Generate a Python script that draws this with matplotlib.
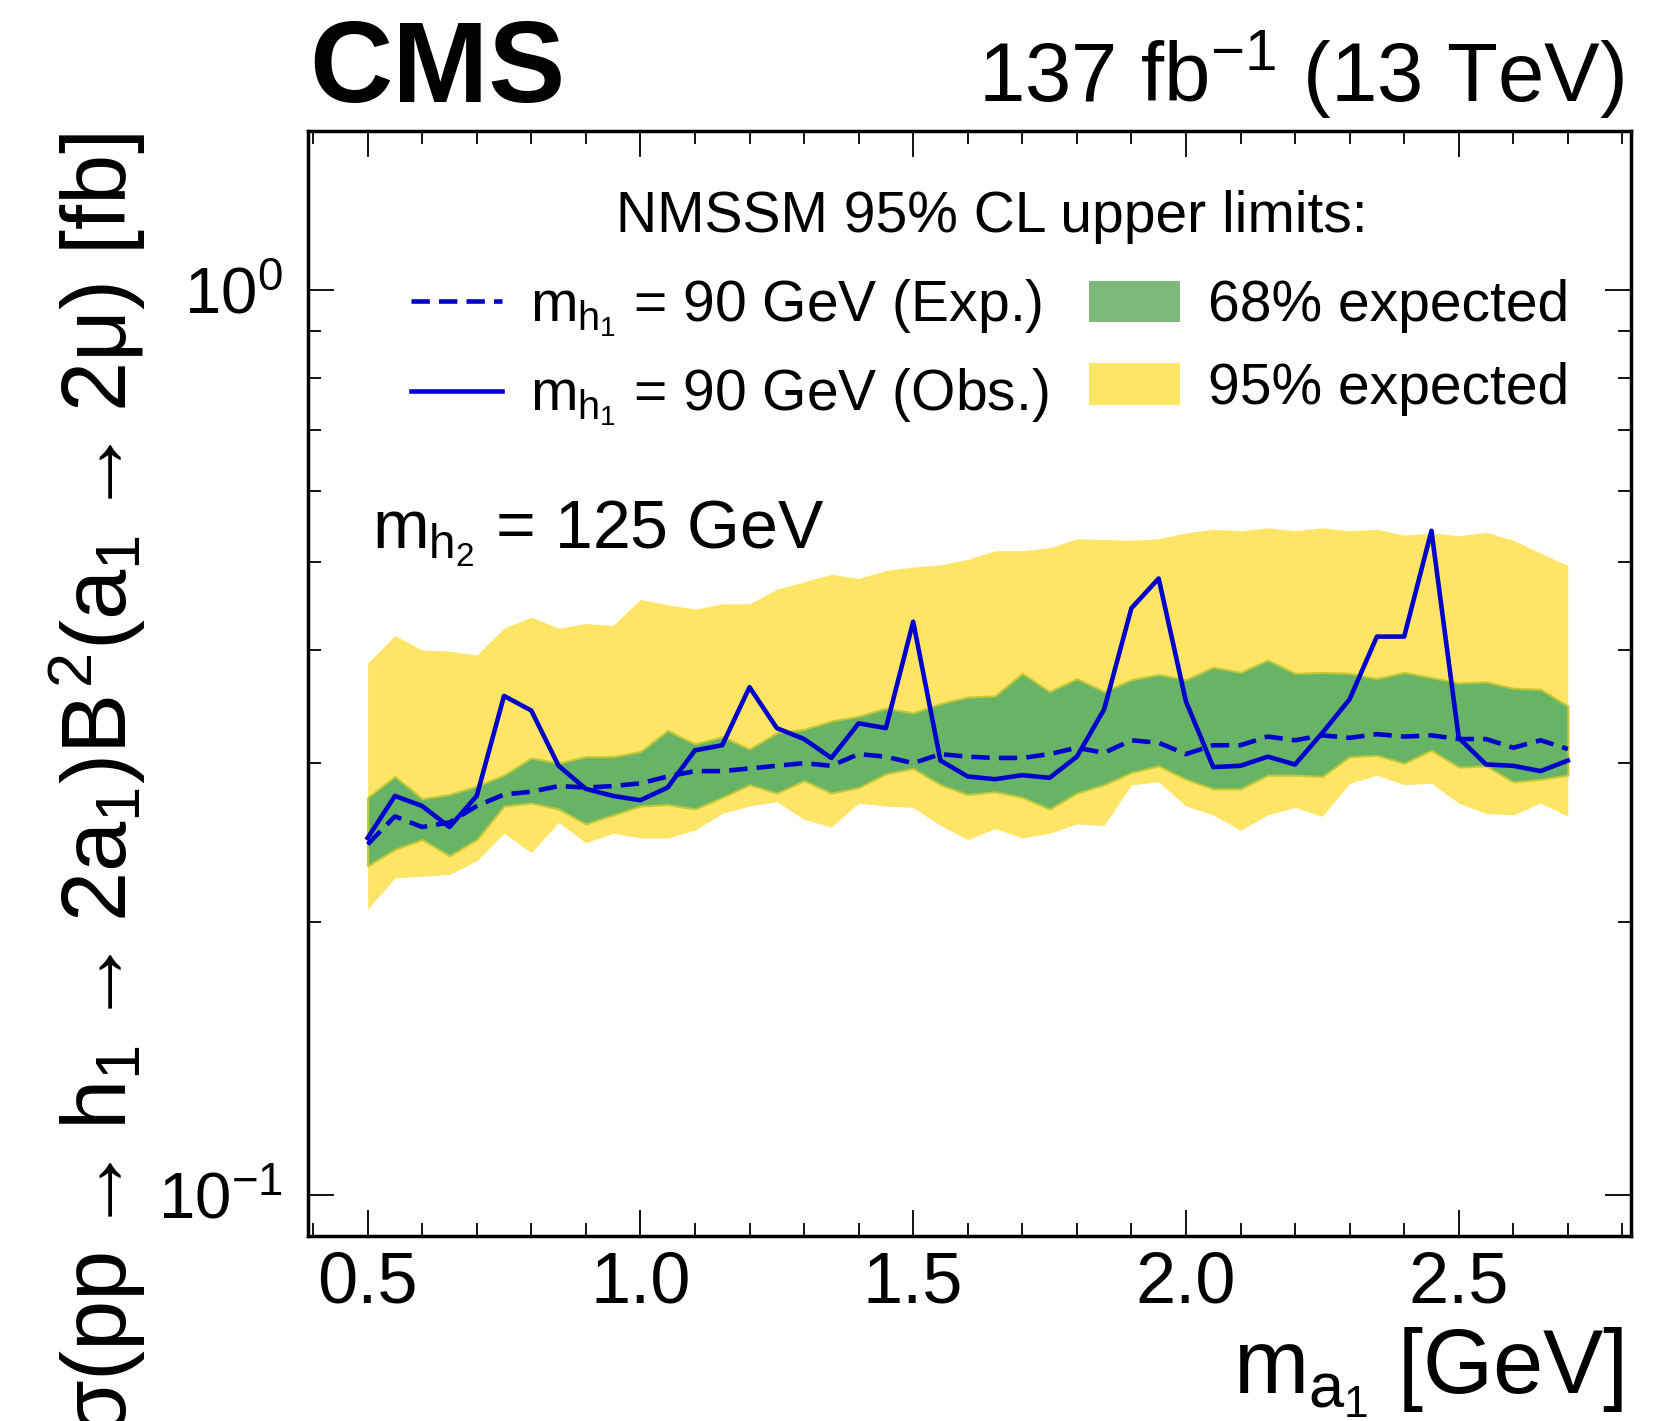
import numpy as np
import matplotlib
matplotlib.use("Agg")
from matplotlib import pyplot as plt
from matplotlib.lines import Line2D
from matplotlib.patches import Patch
from matplotlib.ticker import MultipleLocator, LogLocator

plt.rcParams["font.family"] = ["Liberation Sans", "DejaVu Sans"]
plt.rcParams["mathtext.fontset"] = "custom"
plt.rcParams["mathtext.rm"] = "Liberation Sans"
plt.rcParams["mathtext.it"] = "Liberation Sans"
plt.rcParams["mathtext.bf"] = "Liberation Sans:bold"

# m(a1) scan points [GeV]
ma1 = [0.50, 0.55, 0.60, 0.65, 0.70, 0.75, 0.80, 0.85, 0.90, 0.95, 1.00,
       1.05, 1.10, 1.15, 1.20, 1.25, 1.30, 1.35, 1.40, 1.45, 1.50, 1.55,
       1.60, 1.65, 1.70, 1.75, 1.80, 1.85, 1.90, 1.95, 2.00, 2.05, 2.10,
       2.15, 2.20, 2.25, 2.30, 2.35, 2.40, 2.45, 2.50, 2.55, 2.60, 2.65, 2.70]

# limits in fb
observed = [0.248, 0.276, 0.269, 0.255, 0.276, 0.356, 0.343, 0.298, 0.281, 0.276, 0.273,
            0.282, 0.310, 0.314, 0.364, 0.328, 0.319, 0.304, 0.332, 0.328, 0.430, 0.302,
            0.290, 0.288, 0.291, 0.289, 0.305, 0.344, 0.445, 0.480, 0.351, 0.297, 0.298,
            0.305, 0.299, 0.324, 0.353, 0.414, 0.414, 0.542, 0.320, 0.299, 0.298, 0.294, 0.302]
expected = [0.244, 0.262, 0.255, 0.258, 0.269, 0.277, 0.279, 0.283, 0.282, 0.283, 0.285,
            0.290, 0.294, 0.294, 0.296, 0.298, 0.300, 0.298, 0.307, 0.305, 0.300, 0.307,
            0.305, 0.304, 0.304, 0.307, 0.312, 0.308, 0.318, 0.316, 0.307, 0.314, 0.314,
            0.321, 0.318, 0.322, 0.320, 0.323, 0.321, 0.322, 0.319, 0.319, 0.312, 0.318, 0.311]
exp_68_lo = [0.231, 0.241, 0.247, 0.237, 0.247, 0.269, 0.271, 0.267, 0.257, 0.263, 0.269,
             0.270, 0.267, 0.275, 0.284, 0.278, 0.287, 0.278, 0.282, 0.292, 0.296, 0.284,
             0.277, 0.279, 0.275, 0.267, 0.278, 0.284, 0.293, 0.298, 0.288, 0.281, 0.281,
             0.291, 0.291, 0.290, 0.305, 0.306, 0.300, 0.310, 0.297, 0.298, 0.286, 0.288, 0.291]
exp_68_hi = [0.275, 0.290, 0.274, 0.277, 0.283, 0.291, 0.304, 0.300, 0.305, 0.305, 0.309,
             0.326, 0.315, 0.321, 0.311, 0.324, 0.327, 0.334, 0.338, 0.345, 0.341, 0.349,
             0.355, 0.356, 0.377, 0.360, 0.372, 0.360, 0.371, 0.376, 0.371, 0.383, 0.378,
             0.390, 0.377, 0.378, 0.377, 0.372, 0.378, 0.373, 0.368, 0.369, 0.363, 0.362, 0.347]
exp_95_lo = [0.207, 0.224, 0.225, 0.226, 0.234, 0.251, 0.239, 0.258, 0.245, 0.251, 0.248,
             0.248, 0.253, 0.264, 0.269, 0.272, 0.260, 0.255, 0.271, 0.269, 0.268, 0.256,
             0.247, 0.254, 0.248, 0.251, 0.257, 0.256, 0.284, 0.286, 0.269, 0.263, 0.253,
             0.263, 0.268, 0.262, 0.285, 0.291, 0.284, 0.285, 0.271, 0.264, 0.263, 0.271, 0.262]
exp_95_hi = [0.387, 0.415, 0.400, 0.399, 0.395, 0.423, 0.435, 0.423, 0.428, 0.426, 0.455,
             0.449, 0.444, 0.450, 0.450, 0.467, 0.476, 0.485, 0.480, 0.490, 0.494, 0.497,
             0.504, 0.515, 0.515, 0.519, 0.531, 0.530, 0.529, 0.531, 0.539, 0.544, 0.542,
             0.546, 0.542, 0.546, 0.542, 0.544, 0.536, 0.539, 0.535, 0.540, 0.529, 0.512, 0.496]

BLUE = "#0000CC"
GREEN = "#67B467"
YELLOW = "#FFE566"
DASH = (0, (4.0, 2.0))

fig = plt.figure(figsize=(16.81, 14.21), dpi=100)
ax = fig.add_axes([0.183, 0.130, 0.787, 0.778])

ax.fill_between(ma1, exp_95_lo, exp_95_hi, color=YELLOW, lw=0)
ax.fill_between(ma1, exp_68_lo, exp_68_hi, facecolor=GREEN, edgecolor="#C2C838", lw=1.5)
ax.plot(ma1, expected, color=BLUE, lw=3.3, ls=DASH)
ax.plot(ma1, observed, color=BLUE, lw=3.3)

ax.set_yscale("log")
ax.set_xlim(0.39, 2.815)
ax.set_ylim(0.09, 1.5)
ax.xaxis.set_major_locator(MultipleLocator(0.5))
ax.xaxis.set_minor_locator(MultipleLocator(0.1))
ax.yaxis.set_major_locator(LogLocator(base=10))
ax.yaxis.set_minor_locator(LogLocator(base=10, subs=np.arange(2, 10)))
ax.xaxis.set_major_formatter(matplotlib.ticker.FormatStrFormatter("%.1f"))
ax.yaxis.set_minor_formatter(matplotlib.ticker.NullFormatter())

ax.tick_params(which="both", direction="in", top=True, right=True, width=1.3)
ax.tick_params(which="major", length=18.5)
ax.tick_params(which="minor", length=9.5)
ax.tick_params(axis="x", which="major", pad=10, labelsize=52)
ax.tick_params(axis="y", which="major", pad=18, labelsize=47)
for sp in ax.spines.values():
    sp.set_linewidth(2.5)

# labels
fig.text(0.966, 0.019, r"$m_{a_1}$ [GeV]", ha="right", va="baseline", fontsize=65)
fig.text(0.058, 0.906,
         r"$\sigma(pp \rightarrow h_1 \rightarrow 2a_1)B^2(a_1 \rightarrow 2\mu)$ [fb]",
         rotation=90, ha="center", va="top", fontsize=65)
fig.text(0.184, 0.928, "CMS", fontsize=83, fontweight="bold", ha="left", va="baseline")
fig.text(0.966, 0.928, r"137 fb$^{-1}$ (13 TeV)", fontsize=60, ha="right", va="baseline")
ax.text(0.049, 0.635, r"$m_{h_2}$ = 125 GeV", transform=ax.transAxes,
        fontsize=49, ha="left", va="center")

ax.text(0.517, 0.922, "NMSSM 95% CL upper limits:", transform=ax.transAxes,
        fontsize=41, ha="center", va="center")

handles = [
    Line2D([], [], color=BLUE, lw=3.3, ls=DASH),
    Line2D([], [], color=BLUE, lw=3.3),
    Patch(facecolor="#7DB97D", edgecolor="none"),
    Patch(facecolor=YELLOW, edgecolor="none"),
]
labels = [
    r"$m_{h_1}$ = 90 GeV (Exp.)",
    r"$m_{h_1}$ = 90 GeV (Obs.)",
    "68% expected",
    "95% expected",
]
leg = ax.legend(handles, labels, ncol=2, frameon=False, fontsize=41,
                loc="center", bbox_to_anchor=(0.516, 0.799),
                handlelength=1.6, handleheight=0.75, handletextpad=0.5,
                columnspacing=0.7, labelspacing=0.5)

fig.savefig("out.png", dpi=100)
